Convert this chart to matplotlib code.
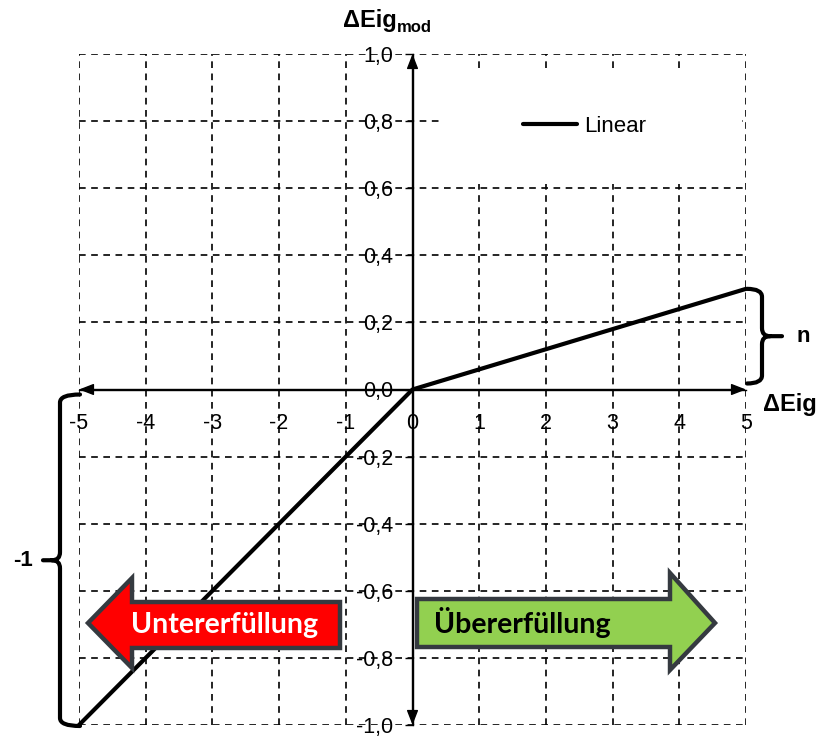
import matplotlib.pyplot as plt
from matplotlib.patches import Polygon, PathPatch, Rectangle
from matplotlib.path import Path

# data
x_vals = [-5, 0, 5]
y_vals = [-1.0, 0.0, 0.3]
x_ticks = [-5, -4, -3, -2, -1, 0, 1, 2, 3, 4, 5]
y_ticks = [-1.0, -0.8, -0.6, -0.4, -0.2, 0.0, 0.2, 0.4, 0.6, 0.8, 1.0]
y_labels = ['-1,0', '-0,8', '-0,6', '-0,4', '-0,2', '0,0', '0,2', '0,4', '0,6', '0,8', '1,0']
series_name = 'Linear'

W, H = 822, 740
plt.rcParams['font.family'] = ['Liberation Sans', 'DejaVu Sans']
plt.rcParams['axes.unicode_minus'] = False

fig = plt.figure(figsize=(W / 100, H / 100), dpi=100)
ax = fig.add_axes([79 / W, 15 / H, 667 / W, 671 / H])
ax.set_xlim(-5, 5)
ax.set_ylim(-1, 1)

# dashed grid, axes through zero
ax.set_xticks(x_ticks)
ax.set_yticks(y_ticks, y_labels)
ax.grid(True, color='black', linestyle=(0, (4, 3.3)), linewidth=1.2)
for s in ['top', 'right']:
    ax.spines[s].set_visible(False)
ax.spines['left'].set_position(('data', 0))
ax.spines['bottom'].set_position(('data', 0))
ax.spines['left'].set_linewidth(1.0)
ax.spines['bottom'].set_linewidth(1.0)
ax.tick_params(axis='y', direction='out', length=6, width=1, pad=8, labelsize=15.5)
ax.tick_params(axis='x', length=0, pad=17, labelsize=15.5)

# arrow heads on the axes
arrow = dict(arrowstyle='<|-|>,head_length=0.9,head_width=0.35', color='black', lw=1.0,
             shrinkA=0, shrinkB=0)
ax.annotate('', xy=(5, 0), xytext=(-5, 0), arrowprops=arrow, annotation_clip=False)
ax.annotate('', xy=(0, 1), xytext=(0, -1), arrowprops=arrow, annotation_clip=False)

ax.plot(x_vals, y_vals, color='black', lw=3, solid_capstyle='round', label=series_name,
        clip_on=False, zorder=4)

# white legend area hides the grid behind it
ax.add_patch(Rectangle((0.42, 0.612), 4.52, 0.334, fc='white', ec='none', zorder=1.8))
ax.legend(loc='center left', bbox_to_anchor=(523 / W, 1 - 126 / H), bbox_transform=fig.transFigure,
          frameon=False, fontsize=16, handlelength=2.45, handletextpad=0.3, borderpad=0, borderaxespad=0)

# overlay in pixel coordinates for the decorations
ov = fig.add_axes([0, 0, 1, 1], zorder=3)
ov.set_xlim(0, W)
ov.set_ylim(H, 0)
ov.axis('off')


def to_px(x, y):
    d = ax.transData.transform((x, y))
    return d[0], H - d[1]


def vbrace(x_end, x_bar, x_tip, y_top, y_bot, r=8):
    s = 1 if x_tip > x_bar else -1
    ym = (y_top + y_bot) / 2
    verts = [(x_end, y_top), (x_bar, y_top), (x_bar, y_top + r),
             (x_bar, ym - r), (x_bar, ym), (x_bar + s * r, ym),
             (x_tip, ym),
             (x_bar + s * r, ym), (x_bar, ym), (x_bar, ym + r),
             (x_bar, y_bot - r), (x_bar, y_bot), (x_end, y_bot)]
    codes = [Path.MOVETO, Path.CURVE3, Path.CURVE3,
             Path.LINETO, Path.CURVE3, Path.CURVE3,
             Path.LINETO,
             Path.MOVETO, Path.CURVE3, Path.CURVE3,
             Path.LINETO, Path.CURVE3, Path.CURVE3]
    ov.add_patch(PathPatch(Path(verts, codes), fill=False, lw=3, color='black',
                           capstyle='round', joinstyle='round'))
    return ym


# brace n (right end value)
xe, yt = to_px(x_vals[-1], y_vals[-1])
_, yb = to_px(x_vals[-1], y_vals[1])
ym = vbrace(xe + 1, xe + 16, xe + 36, yt, yb - 6)
ov.text(xe + 57, ym, 'n', ha='center', va='center', fontsize=16, fontweight='bold')

# brace -1 (left end value)
xe, yb = to_px(x_vals[0], y_vals[0])
_, yt = to_px(x_vals[0], y_vals[1])
ym = vbrace(xe + 1, xe - 19, xe - 36, yt + 5, yb + 1)
ov.text(xe - 56, ym, '-1', ha='center', va='center', fontsize=16, fontweight='bold')

# block arrows
edge = '#353a40'
red = Polygon([(88, 623), (132, 578), (132, 602), (340, 602), (340, 648), (132, 648), (132, 668)],
              closed=True, fc='#ff0000', ec=edge, lw=3.2, joinstyle='miter')
green = Polygon([(417, 599), (670, 599), (670, 573), (715, 623), (670, 670), (670, 647), (417, 647)],
                closed=True, fc='#92d050', ec=edge, lw=3.2, joinstyle='miter')
ov.add_patch(red)
ov.add_patch(green)
ov.text(225, 625, 'Untererfüllung', ha='center', va='center', color='white', fontsize=20.5,
        fontweight='bold', family=['Lato', 'DejaVu Sans'])
ov.text(522, 623, 'Übererfüllung', ha='center', va='center', color='black', fontsize=20.5,
        fontweight='bold', family=['Lato', 'DejaVu Sans'])

# axis titles
ov.text(397, 21, 'ΔEig', ha='right', va='center', fontsize=17, fontweight='bold')
ov.text(397, 27, 'mod', ha='left', va='center', fontsize=12, fontweight='bold')
ov.text(790, 405, 'ΔEig', ha='center', va='center', fontsize=17, fontweight='bold')

fig.savefig('out.png', dpi=100)
